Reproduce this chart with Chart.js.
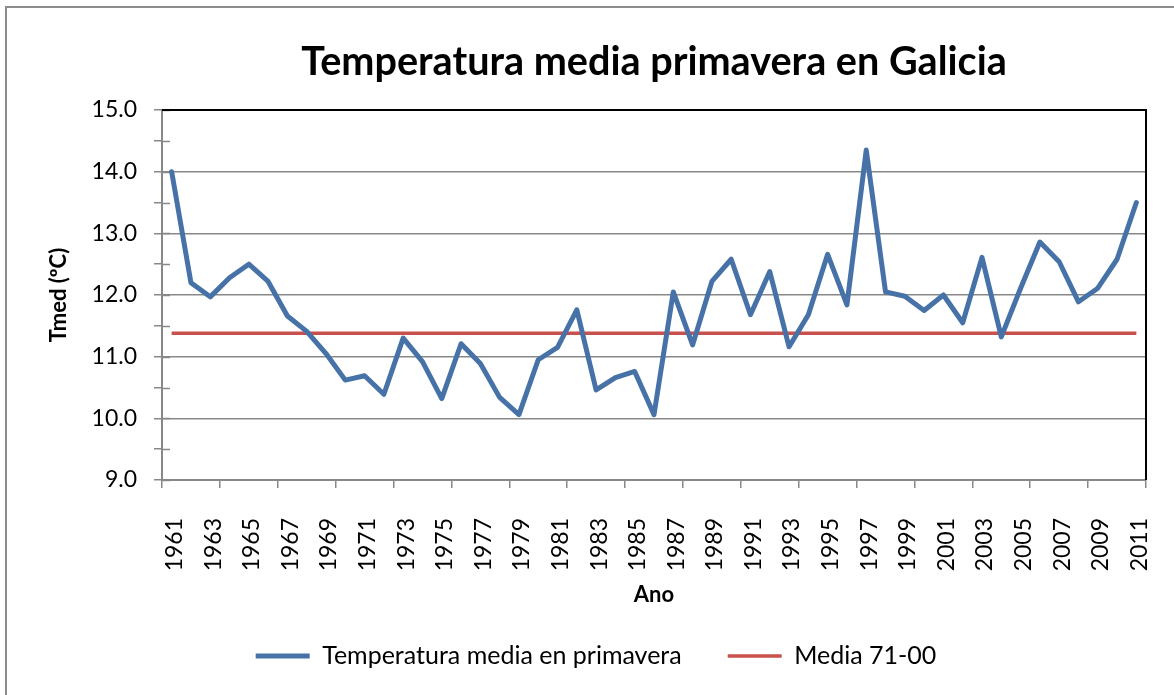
<!DOCTYPE html>
<html>
<head>
<meta charset="utf-8">
<script src="https://cdn.jsdelivr.net/npm/chart.js@4/dist/chart.umd.min.js"></script>
<style>
  html, body { margin: 0; padding: 0; background: #fff; overflow: hidden; }
  #frame { position: absolute; left: 5px; top: 6px; width: 1200px; height: 720px; border: 2px solid #8c8c8c; box-sizing: border-box; }
  #myChart { position: absolute; left: 0; top: 0; }
</style>
</head>
<body>
<div id="frame"></div>
<canvas id="myChart" width="1174" height="695"></canvas>
<script>
// --- data ---
const years = ['1961','1962','1963','1964','1965','1966','1967','1968','1969','1970',
  '1971','1972','1973','1974','1975','1976','1977','1978','1979','1980',
  '1981','1982','1983','1984','1985','1986','1987','1988','1989','1990',
  '1991','1992','1993','1994','1995','1996','1997','1998','1999','2000',
  '2001','2002','2003','2004','2005','2006','2007','2008','2009','2010','2011'];
const tmedPrimavera = [14.00, 12.20, 11.97, 12.28, 12.50, 12.22, 11.66, 11.41, 11.05, 10.62,
  10.69, 10.39, 11.30, 10.92, 10.32, 11.21, 10.89, 10.34, 10.06, 10.95,
  11.15, 11.76, 10.46, 10.66, 10.76, 10.06, 12.05, 11.19, 12.22, 12.58,
  11.68, 12.38, 11.16, 11.68, 12.66, 11.84, 14.35, 12.05, 11.98, 11.75,
  12.00, 11.55, 12.61, 11.32, 12.11, 12.86, 12.54, 11.89, 12.11, 12.58, 13.50];
const mediaYears = ['1961', '2011'];
const mediaValues = [11.38, 11.38];

const blue = '#4672A8';
const red = '#C8504D';
const axisGray = '#888888';

// black border on top/right of plot area + y tick marks crossing the axis
const plotBorder = {
  id: 'plotBorder',
  beforeDatasetsDraw(chart) {
    const { ctx, chartArea: a } = chart;
    const y = chart.scales.y;
    ctx.save();
    ctx.strokeStyle = axisGray;
    ctx.lineWidth = 1.5;
    y.ticks.forEach(t => {
      const py = Math.round(y.getPixelForValue(t.value)) + 0.5;
      ctx.beginPath();
      ctx.moveTo(a.left, py);
      ctx.lineTo(a.left + 8, py);
      ctx.stroke();
    });
    ctx.strokeStyle = '#000';
    ctx.lineWidth = 2;
    ctx.beginPath();
    ctx.moveTo(a.left, a.top);
    ctx.lineTo(a.right, a.top);
    ctx.lineTo(a.right, a.bottom);
    ctx.stroke();
    ctx.restore();
  }
};

const ctx = document.getElementById('myChart').getContext('2d');
new Chart(ctx, {
  type: 'line',
  data: {
    labels: years,
    datasets: [
      {
        label: 'Temperatura media en primavera',
        data: tmedPrimavera,
        borderColor: blue,
        backgroundColor: blue,
        borderWidth: 5,
        borderJoinStyle: 'round',
        borderCapStyle: 'round',
        pointRadius: 0,
        tension: 0
      },
      {
        label: 'Media 71-00',
        data: mediaYears.map((y, i) => ({ x: y, y: mediaValues[i] })),
        borderColor: red,
        backgroundColor: red,
        borderWidth: 3.5,
        pointRadius: 0,
        tension: 0
      }
    ]
  },
  plugins: [plotBorder],
  options: {
    responsive: false,
    animation: false,
    layout: { padding: { left: 46, right: 28, top: 0, bottom: 16.5 } },
    plugins: {
      title: {
        display: true,
        text: 'Temperatura media primavera en Galicia',
        fullSize: false,
        color: '#000',
        font: { family: 'Lato', size: 39.6, weight: 'bold' },
        padding: { top: 38.2, bottom: 24.3 }
      },
      legend: {
        position: 'bottom',
        labels: {
          usePointStyle: true,
          pointStyle: 'line',
          pointStyleWidth: 54,
          color: '#000',
          font: { family: 'Lato', size: 25 },
          padding: 46
        }
      },
      tooltip: { enabled: false }
    },
    scales: {
      x: {
        type: 'category',
        offset: true,
        afterFit(scale) {
          scale.height = 117.5;
          scale.paddingLeft = 0;
          scale.paddingRight = 0;
        },
        grid: {
          offset: true,
          drawOnChartArea: false,
          tickLength: 8,
          lineWidth: 1.5,
          tickColor: (c) => (c.index === undefined || c.index % 3 === 0) ? axisGray : 'rgba(0,0,0,0)'
        },
        border: { color: axisGray, width: 2 },
        ticks: {
          autoSkip: false,
          minRotation: 90,
          maxRotation: 90,
          padding: 30,
          labelOffset: 3,
          color: '#000',
          font: { family: 'Lato', size: 23 },
          callback: function(val, index) { return index % 2 === 0 ? this.getLabelForValue(val) : ''; }
        },
        title: {
          display: true,
          text: 'Ano',
          color: '#000',
          font: { family: 'Lato', size: 22, weight: 'bold' },
          padding: { top: 0, bottom: -10.7 }
        }
      },
      y: {
        min: 9,
        max: 15,
        afterFit(scale) { scale.width = 116; },
        grid: {
          tickLength: 8,
          lineWidth: 1.5,
          color: (c) => (Number.isInteger(c.tick.value) && c.tick.value > 9 && c.tick.value < 15) ? axisGray : 'rgba(0,0,0,0)',
          tickColor: axisGray
        },
        border: { color: axisGray, width: 2 },
        ticks: {
          stepSize: 0.5,
          padding: 17,
          color: '#000',
          font: { family: 'Lato', size: 23 },
          callback: (v) => Number.isInteger(v) ? v.toFixed(1) : ''
        },
        title: {
          display: true,
          text: 'Tmed (ºC)',
          color: '#000',
          font: { family: 'Lato', size: 22, weight: 'bold' },
          padding: { top: 0, bottom: 0 }
        }
      }
    }
  }
});
</script>
</body>
</html>
